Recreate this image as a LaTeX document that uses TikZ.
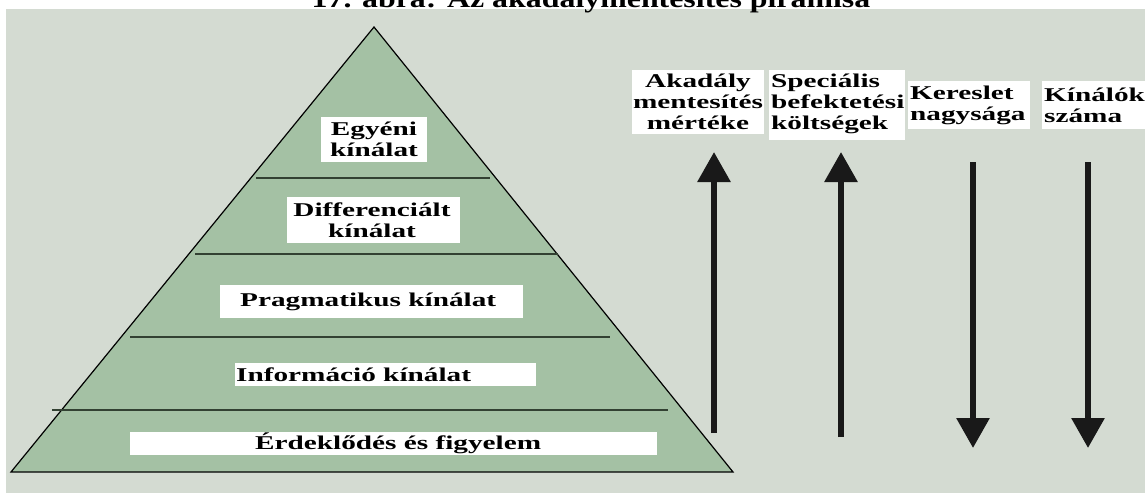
\documentclass[tikz,border=0pt]{standalone}
\usepackage{fontspec}
\setmainfont{Liberation Serif}[FakeStretch=1.5]
\newfontfamily\titlefont{Liberation Serif}[FakeStretch=1.25]
\usetikzlibrary{arrows.meta}
\definecolor{panel}{RGB}{212,219,210}
\definecolor{pyr}{RGB}{164,193,164}
\definecolor{divl}{RGB}{50,65,50}
\tikzset{
  wbox/.style={inner sep=0pt, font=\bfseries\fontsize{19.5}{21}\selectfont},
  divider/.style={draw=divl, line width=1.2pt},
  bigarrow/.style={line width=6pt, -{Triangle[width=32pt,length=30pt]}, black!90}
}
\begin{document}
\begin{tikzpicture}[x=1pt,y=-1pt]
\useasboundingbox (0,0) rectangle (1145,493);
\clip (0,0) rectangle (1145,493);
\fill[panel] (6,9) rectangle (1145,493);
\node[font=\titlefont\bfseries\fontsize{25.5}{27}\selectfont, anchor=base] (title) at (591,7) {17. ábra: Az akadálymentesítés piramisa};
% pyramid
\coordinate (apex) at (374,27);
\coordinate (bl) at (11,472);
\coordinate (br) at (733,472);
\filldraw[fill=pyr, draw=black, line width=1.2pt] (apex) -- (br) -- (bl) -- cycle;
\coordinate (d1a) at (256,178); \coordinate (d1b) at (490,178);
\coordinate (d2a) at (195,254); \coordinate (d2b) at (558,254);
\coordinate (d3a) at (130,337); \coordinate (d3b) at (610,337);
\coordinate (d4a) at (52,410); \coordinate (d4b) at (668,410);
\draw[divider] (d1a) -- (d1b);
\draw[divider] (d2a) -- (d2b);
\draw[divider] (d3a) -- (d3b);
\draw[divider] (d4a) -- (d4b);
% white boxes
\fill[white] (321,117) rectangle (427,162);
\node[wbox, align=center] (egy) at (374,139.5) {Egyéni\\kínálat};
\fill[white] (287,197) rectangle (460,243);
\node[wbox, align=center] (diff) at (372,220) {Differenciált\\kínálat};
\fill[white] (220,285) rectangle (523,318);
\node[wbox, anchor=west] (prag) at (240,301.5) {Pragmatikus kínálat};
\fill[white] (235,363) rectangle (536,386);
\node[wbox, anchor=west] (info) at (236,374.5) {Információ kínálat};
\fill[white] (130,432) rectangle (657,455);
\node[wbox, anchor=west] (erd) at (255,443.5) {Érdeklődés és figyelem};
% right labels
\fill[white] (632,70) rectangle (764,134);
\node[wbox, align=center] (aka) at (698,102) {Akadály\\mentesítés\\mértéke};
\fill[white] (769,70) rectangle (905,140);
\node[wbox, align=left, anchor=west] (spec) at (771,103.5) {Speciális\\befektetési\\költségek};
\fill[white] (908,81) rectangle (1030,129);
\node[wbox, align=left, anchor=west] (ker) at (910,105) {Kereslet\\nagysága};
\fill[white] (1042,81) rectangle (1145,129);
\node[wbox, align=left, anchor=west] (kin) at (1044,105) {Kínálók\\száma};
% arrows
\coordinate (a1s) at (714,433); \coordinate (a1e) at (714,152);
\coordinate (a2s) at (841,437); \coordinate (a2e) at (841,152);
\coordinate (a3s) at (973,162); \coordinate (a3e) at (973,448);
\coordinate (a4s) at (1088,162); \coordinate (a4e) at (1088,448);
\draw[bigarrow] (a1s) -- (a1e);
\draw[bigarrow] (a2s) -- (a2e);
\draw[bigarrow] (a3s) -- (a3e);
\draw[bigarrow] (a4s) -- (a4e);
\end{tikzpicture}
\end{document}
